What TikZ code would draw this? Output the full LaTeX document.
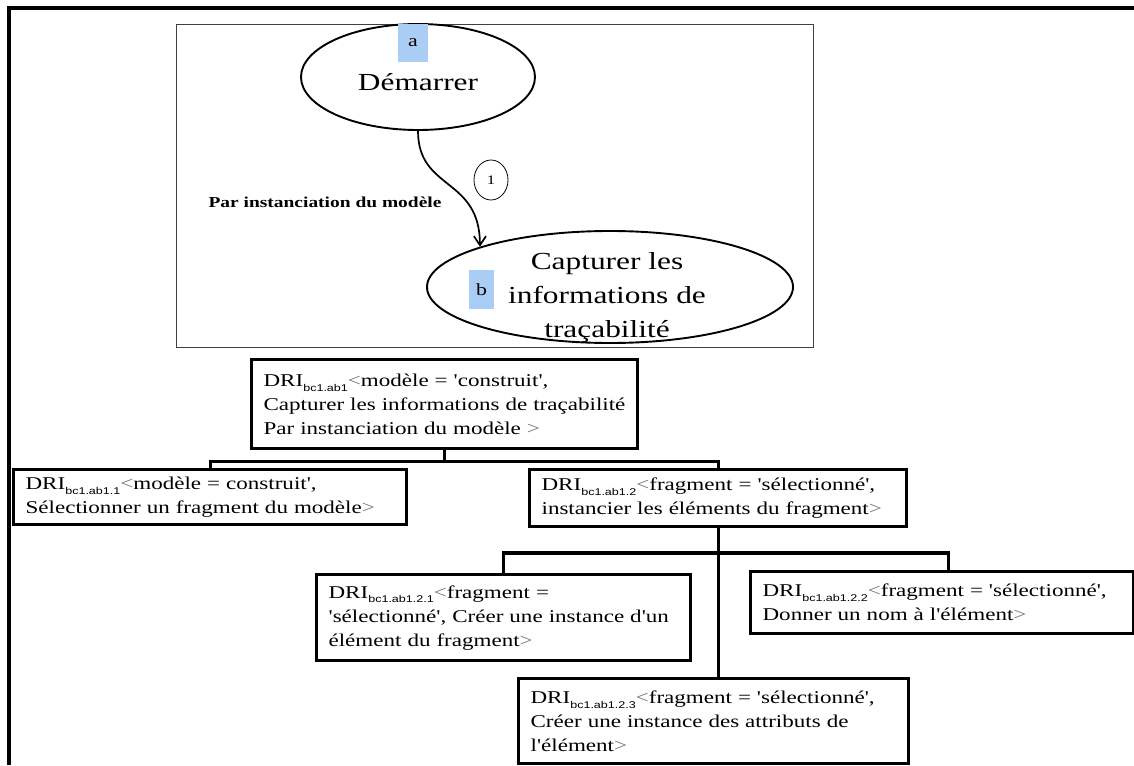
\documentclass[tikz,border=0pt]{standalone}
\usepackage{fontspec}
\setmainfont{Liberation Serif}[FakeStretch=1.28,Ligatures=TeXOff]
\newfontfamily\subfont{Liberation Sans}[FakeStretch=1.28]
\usetikzlibrary{shapes.geometric,arrows.meta,calc}
\definecolor{lblue}{RGB}{170,205,245}
\newcommand\dri[1]{DRI\raisebox{-0.6ex}{\subfont\fontsize{9.8}{9.8}\selectfont #1}}
\newcommand\lsym{{\color{black!55}<}}
\newcommand\gsym{{\color{black!55}>}}
\begin{document}
\begin{tikzpicture}[x=1pt,y=-1pt,
  frame/.style={line width=4.5pt},
  innerframe/.style={draw=black!75, line width=0.9pt},
  ovalnode/.style={ellipse, draw, line width=1.9pt, inner sep=0pt},
  tag/.style={fill=lblue, inner sep=0pt, font=\fontsize{17}{17}\selectfont},
  drbox/.style={draw, line width=3.2pt, fill=white, anchor=north west, align=left,
    inner xsep=12pt, inner ysep=0pt, font=\fontsize{18}{24}\selectfont},
  link/.style={line width=3.2pt},
  flow/.style={line width=1.7pt, -{Straight Barb[length=9pt,width=12pt,line width=1.7pt]}},
]
\useasboundingbox (0,0) rectangle (1134,765);
\draw[frame] (9,765) -- (9,8) -- (1134,8);
\draw[innerframe] (176,24) rectangle (813,347);

% top diagram
\node[ovalnode, minimum width=234pt, minimum height=106pt] (start) at (418,77) {};
\node[font=\fontsize{24.5}{24.5}\selectfont] (startlbl) at (418,82) {Démarrer};
\node[ovalnode, minimum width=366pt, minimum height=112pt] (capture) at (610,287) {};
\node[align=center, font=\fontsize{24.5}{34}\selectfont] (capturelbl) at (607,298) {Capturer les\\informations de\\traçabilité};
\node[tag, minimum width=30pt, minimum height=38pt] (taga) at (413,43) {a};
\node[tag, minimum width=25pt, minimum height=39pt] (tagb) at (481.5,289.5) {b};
\draw[flow] (start.south) .. controls +(0,60) and +(0,-70) .. (capture.north west);
\node[ellipse, draw, line width=0.8pt, minimum width=34pt, minimum height=40pt, inner sep=0pt,
  font=\fontsize{13}{13}\selectfont] (stepone) at (491,180) {1};
\node[font=\bfseries\fontsize{15.2}{15.2}\selectfont] (via) at (325,202) {Par instanciation du modèle};

% tree
\node[drbox, text width=362pt, minimum height=89pt] (root) at (250,358)
  {\dri{bc1.ab1}\lsym modèle = 'construit',\\Capturer les informations de traçabilité\\Par instanciation du modèle \gsym};
\node[drbox, text width=369pt, minimum height=55pt] (b11) at (12,468)
  {\dri{bc1.ab1.1}\lsym modèle = construit',\\Sélectionner un fragment du modèle\gsym};
\node[drbox, text width=353pt, minimum height=57pt] (b12) at (528,468)
  {\dri{bc1.ab1.2}\lsym fragment = 'sélectionné',\\instancier les éléments du fragment\gsym};
\node[drbox, text width=350pt, minimum height=86pt] (b121) at (315,573)
  {\dri{bc1.ab1.2.1}\lsym fragment =\\'sélectionné', Créer une instance d'un\\élément du fragment\gsym};
\node[drbox, text width=359pt, minimum height=62pt] (b122) at (749,570)
  {\dri{bc1.ab1.2.2}\lsym fragment = 'sélectionné',\\Donner un nom à l'élément\gsym};
\node[drbox, text width=366pt, minimum height=85pt] (b123) at (517,677)
  {\dri{bc1.ab1.2.3}\lsym fragment = 'sélectionné',\\Créer une instance des attributs de\\l'élément\gsym};

\coordinate (j1) at ($(root.south)+(0,11)$);
\coordinate (j2y) at (0,553);
\coordinate (j2) at (b12.south |- j2y);
\draw[link] (root.south) -- (j1);
\draw[link] (b11.north) |- (j1) -| (b12.north);
\draw[link] (b12.south) -- (b12.south |- b123.north);
\draw[link] (b121.north) |- (j2) -| ([xshift=6pt]b122.north);
\end{tikzpicture}
\end{document}
